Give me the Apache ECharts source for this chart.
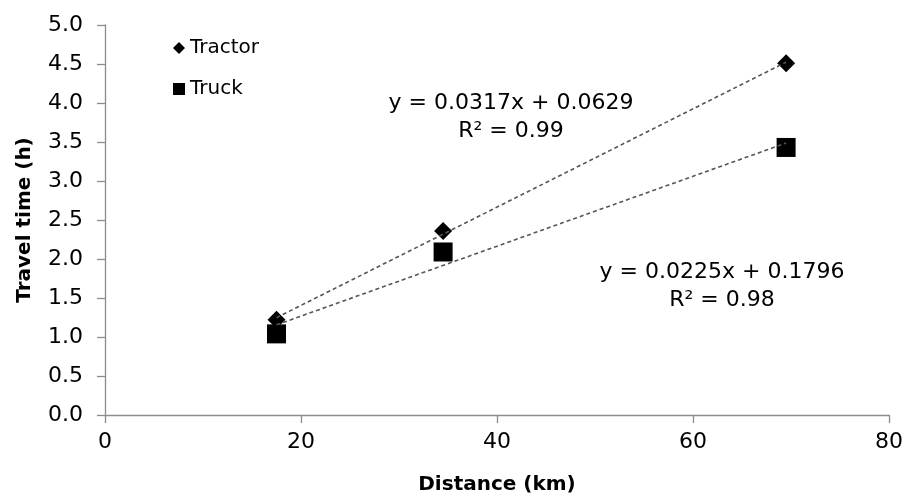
<!DOCTYPE html>
<html>
<head>
<meta charset="utf-8">
<script src="https://cdn.jsdelivr.net/npm/echarts@6/dist/echarts.min.js"></script>
<style>html,body{margin:0;padding:0;background:#fff;}#c{width:908px;height:497px;}</style>
</head>
<body>
<div id="c"></div>
<script>
var distance = [17.5, 34.5, 69.5];
var tractorTime = [1.22, 2.36, 4.51];
var truckTime = [1.04, 2.09, 3.43];
var tractorEq = ['y = 0.0317x + 0.0629', 'R² = 0.99'];
var truckEq = ['y = 0.0225x + 0.1796', 'R² = 0.98'];

function fit(xs, ys) {
  var n = xs.length, mx = 0, my = 0, sxy = 0, sxx = 0;
  for (var i = 0; i < n; i++) { mx += xs[i]; my += ys[i]; }
  mx /= n; my /= n;
  for (var j = 0; j < n; j++) { sxy += (xs[j]-mx)*(ys[j]-my); sxx += (xs[j]-mx)*(xs[j]-mx); }
  var b = sxy / sxx, a = my - b * mx;
  var x0 = Math.min.apply(null, xs), x1 = Math.max.apply(null, xs);
  return [[x0, a + b * x0], [x1, a + b * x1]];
}
function pairs(xs, ys) { return xs.map(function (x, i) { return [x, ys[i]]; }); }

var FONT = 'DejaVu Sans';
var chart = echarts.init(document.getElementById('c'));
var axisLineStyle = { color: '#8c8c8c', width: 1.3 };
chart.setOption({
  animation: false,
  backgroundColor: '#fff',
  grid: { left: 105, right: 19, top: 25, bottom: 82, containLabel: false, outerBoundsMode: 'none' },
  legend: {
    orient: 'vertical', left: 168, top: 33, itemGap: 21, itemWidth: 12, itemHeight: 12,
    textStyle: { fontFamily: FONT, fontSize: 20, color: '#000' },
    data: [{ name: 'Tractor', icon: 'diamond' }, { name: 'Truck', icon: 'rect' }]
  },
  xAxis: {
    type: 'value', min: 0, max: 80, interval: 20,
    name: 'Distance (km)', nameLocation: 'middle', nameGap: 60,
    nameTextStyle: { fontFamily: FONT, fontSize: 20, fontWeight: 'bold', color: '#000' },
    axisLine: { show: true, lineStyle: axisLineStyle },
    axisTick: { show: true, length: 8, lineStyle: axisLineStyle },
    axisLabel: { fontFamily: FONT, fontSize: 22, color: '#000', margin: 16 },
    splitLine: { show: false }
  },
  yAxis: {
    type: 'value', min: 0, max: 5, interval: 0.5,
    name: 'Travel time (h)', nameLocation: 'middle', nameGap: 70,
    nameTextStyle: { fontFamily: FONT, fontSize: 20, fontWeight: 'bold', color: '#000' },
    axisLine: { show: true, lineStyle: axisLineStyle },
    axisTick: { show: true, length: 8, lineStyle: axisLineStyle },
    axisLabel: { fontFamily: FONT, fontSize: 22, color: '#000', margin: 22,
      formatter: function (v) { return v.toFixed(1); } },
    splitLine: { show: false }
  },
  series: [
    { name: 'Tractor', type: 'scatter', symbol: 'diamond', symbolSize: 18,
      itemStyle: { color: '#000', opacity: 1 }, data: pairs(distance, tractorTime), z: 2 },
    { name: 'Truck', type: 'scatter', symbol: 'rect', symbolSize: 19,
      itemStyle: { color: '#000', opacity: 1 }, data: pairs(distance, truckTime), z: 2 },
    { name: 'TractorTrend', type: 'line', symbol: 'none', silent: true, z: 3,
      lineStyle: { color: '#555', width: 1.6, type: [4, 3] }, data: fit(distance, tractorTime) },
    { name: 'TruckTrend', type: 'line', symbol: 'none', silent: true, z: 3,
      lineStyle: { color: '#555', width: 1.6, type: [4, 3] }, data: fit(distance, truckTime) }
  ],
  graphic: [
    { type: 'text', x: 511, y: 89, style: { text: tractorEq.join('\n'), fontFamily: FONT, fontSize: 22,
        fill: '#000', textAlign: 'center', lineHeight: 28 } },
    { type: 'text', x: 722, y: 258, style: { text: truckEq.join('\n'), fontFamily: FONT, fontSize: 22,
        fill: '#000', textAlign: 'center', lineHeight: 28 } }
  ]
});
</script>
</body>
</html>
